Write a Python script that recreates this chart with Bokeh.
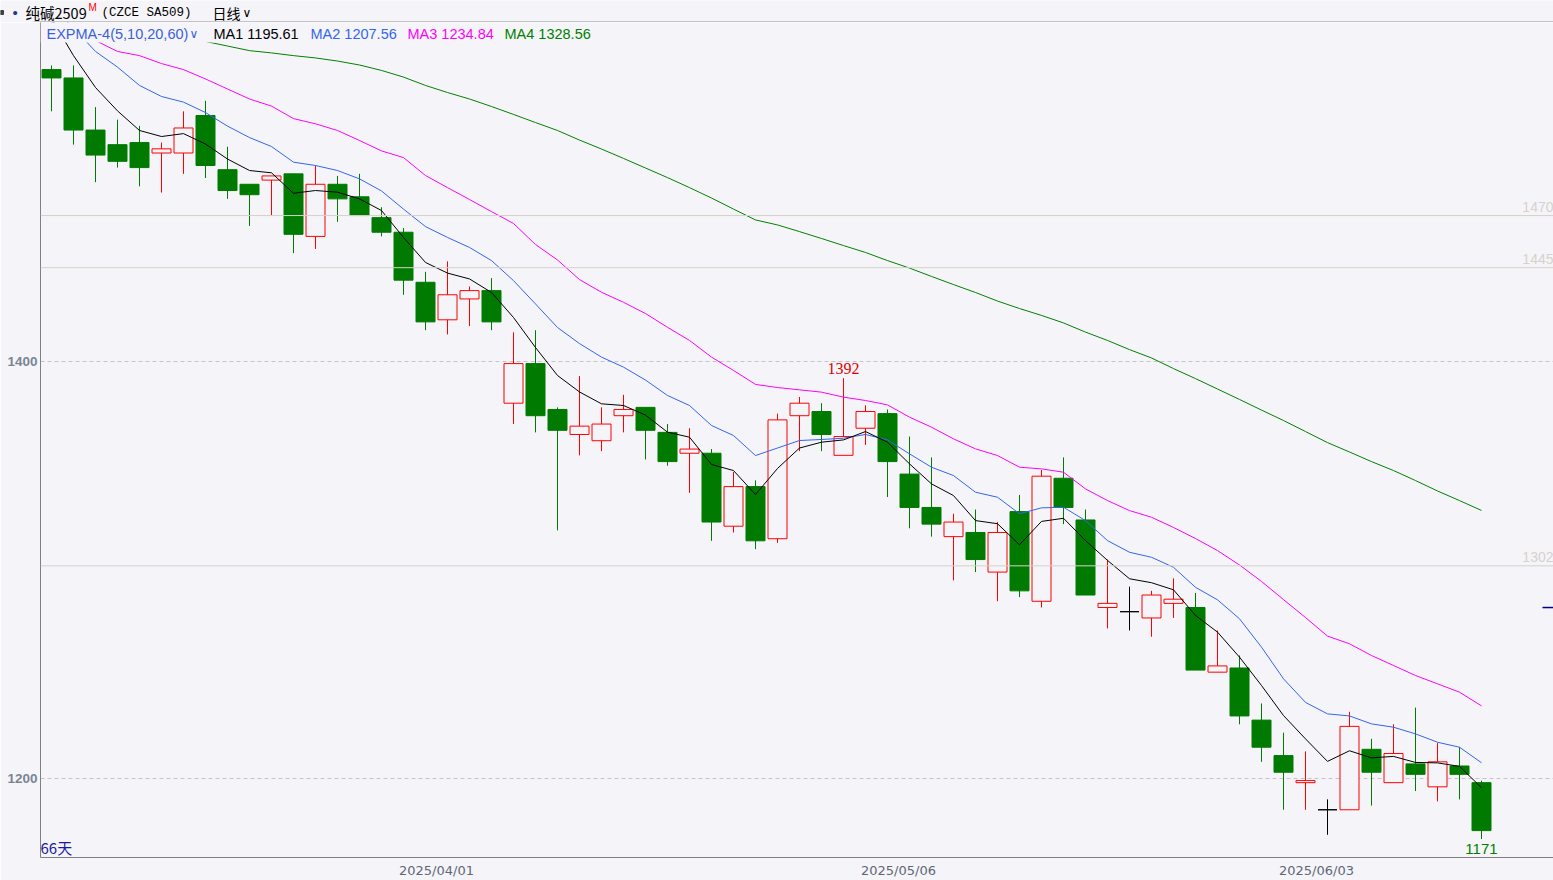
import numpy as np
from bokeh.plotting import figure
from bokeh.layouts import column
from bokeh.models import ColumnDataSource, Range1d, FixedTicker, Span, Label, BoxAnnotation
from bokeh.embed import file_html
from bokeh.resources import INLINE

# ---------------- data ----------------
opens  = [1540, 1536, 1511, 1504, 1505, 1500, 1500, 1518, 1492, 1485,
          1487, 1490, 1460, 1485, 1479, 1469, 1462, 1438, 1420, 1430,
          1434, 1380, 1399, 1377, 1365, 1362, 1374, 1378, 1366, 1356,
          1356, 1321, 1340, 1315, 1374, 1376, 1355, 1368, 1375, 1346,
          1330, 1316, 1318, 1299, 1328, 1285, 1344, 1324, 1282, 1280,
          1277, 1284, 1282, 1251, 1253, 1228, 1211, 1198, 1185, 1185,
          1214, 1198, 1207, 1196, 1206, 1198]
highs  = [1542, 1542, 1522, 1516, 1513, 1505, 1520, 1525, 1503, 1485,
          1489, 1490, 1494, 1489, 1490, 1474, 1464, 1443, 1448, 1436,
          1440, 1414, 1415, 1378, 1393, 1378, 1384, 1378, 1370, 1368,
          1358, 1347, 1343, 1375, 1383, 1380, 1392, 1379, 1377, 1364,
          1354, 1327, 1329, 1323, 1336, 1348, 1354, 1329, 1305, 1292,
          1290, 1296, 1289, 1271, 1259, 1236, 1222, 1213, 1190, 1232,
          1219, 1226, 1234, 1217, 1215, 1199]
lows   = [1520, 1504, 1486, 1493, 1484, 1481, 1490, 1488, 1478, 1465,
          1470, 1452, 1454, 1467, 1470, 1460, 1432, 1415, 1413, 1417,
          1415, 1370, 1366, 1319, 1355, 1357, 1366, 1353, 1350, 1337,
          1314, 1318, 1310, 1313, 1357, 1357, 1355, 1360, 1335, 1320,
          1316, 1295, 1299, 1285, 1287, 1282, 1322, 1288, 1272, 1271,
          1268, 1277, 1252, 1251, 1226, 1208, 1185, 1185, 1173, 1185,
          1187, 1198, 1194, 1189, 1190, 1171]
closes = [1536, 1511, 1499, 1496, 1493, 1502, 1512, 1494, 1482, 1480,
          1489, 1461, 1485, 1478, 1470, 1462, 1439, 1419, 1432, 1434,
          1419, 1399, 1374, 1367, 1369, 1370, 1377, 1367, 1352, 1358,
          1323, 1340, 1314, 1372, 1380, 1365, 1364, 1376, 1352, 1330,
          1322, 1323, 1305, 1318, 1290, 1345, 1330, 1288, 1284, 1280,
          1288, 1286, 1252, 1254, 1230, 1215, 1203, 1199, 1185, 1225,
          1203, 1212, 1202, 1208, 1202, 1175]

ma1 = [1564.5, 1546.7, 1531.4, 1520.2, 1510.8, 1507.9, 1509.3, 1504.3, 1497.1, 1491.6,
       1490.5, 1480.7, 1482.0, 1481.2, 1478.0, 1472.4, 1459.5, 1447.5, 1442.4, 1439.6,
       1433.1, 1421.1, 1406.7, 1393.3, 1385.4, 1379.7, 1378.9, 1374.3, 1366.1, 1363.7,
       1350.6, 1347.7, 1336.2, 1348.7, 1358.5, 1361.3, 1362.4, 1366.4, 1361.3, 1350.9,
       1341.3, 1335.7, 1323.7, 1322.2, 1312.1, 1323.3, 1324.8, 1314.1, 1304.6, 1295.8,
       1293.9, 1290.5, 1278.2, 1270.2, 1258.2, 1244.6, 1230.2, 1219.0, 1208.2, 1213.3,
       1209.9, 1210.6, 1207.7, 1207.5, 1205.8, 1195.61]
ma2 = [1570.0, 1560.0, 1548.7, 1541.2, 1532.4, 1527.1, 1524.4, 1519.4, 1512.9, 1507.4,
       1503.1, 1495.6, 1494.0, 1491.6, 1487.6, 1481.8, 1473.1, 1464.7, 1459.5, 1454.7,
       1448.4, 1438.8, 1427.6, 1416.3, 1408.6, 1402.1, 1397.3, 1391.1, 1383.7, 1378.9,
       1369.3, 1364.5, 1354.9, 1358.5, 1362.1, 1362.6, 1363.2, 1365.0, 1362.4, 1355.7,
       1349.3, 1345.3, 1337.3, 1334.9, 1327.0, 1329.8, 1330.1, 1323.7, 1314.1, 1308.5,
       1306.1, 1301.3, 1291.7, 1285.7, 1276.6, 1263.0, 1247.8, 1236.5, 1231.0, 1230.0,
       1226.2, 1224.6, 1221.4, 1217.4, 1215.0, 1207.56]
ma3 = [1562.6, 1557.8, 1553.9, 1548.7, 1546.7, 1542.9, 1540.0, 1535.5, 1530.7, 1525.9,
       1522.5, 1516.5, 1514.0, 1510.8, 1506.0, 1501.0, 1497.8, 1489.2, 1483.4, 1477.7,
       1471.9, 1466.2, 1456.1, 1448.7, 1439.3, 1433.2, 1428.4, 1423.0, 1416.4, 1410.1,
       1402.1, 1395.7, 1389.0, 1387.5, 1386.4, 1385.3, 1382.9, 1381.3, 1379.2, 1373.3,
       1368.5, 1362.9, 1358.1, 1354.9, 1349.3, 1348.5, 1346.9, 1338.9, 1333.3, 1328.5,
       1325.3, 1320.4, 1315.1, 1309.3, 1302.4, 1294.5, 1285.8, 1277.2, 1268.3, 1264.6,
       1259.0, 1254.2, 1249.4, 1245.4, 1241.4, 1234.84]
ma4 = [1561.6, 1560.2, 1558.7, 1557.5, 1556.3, 1555.4, 1554.4, 1553.5, 1551.3, 1549.1,
       1548.0, 1546.7, 1545.6, 1544.1, 1542.2, 1539.6, 1536.4, 1532.4, 1529.0, 1525.9,
       1522.3, 1518.5, 1514.6, 1510.8, 1506.2, 1501.9, 1497.4, 1492.8, 1488.2, 1483.4,
       1478.4, 1473.1, 1467.9, 1465.5, 1462.3, 1459.0, 1455.6, 1452.3, 1448.4, 1444.8,
       1440.8, 1436.9, 1433.1, 1429.0, 1425.4, 1422.1, 1418.5, 1414.1, 1410.1, 1405.7,
       1401.7, 1396.6, 1391.8, 1386.8, 1381.8, 1376.7, 1371.7, 1366.4, 1361.1, 1356.6,
       1352.0, 1347.7, 1342.9, 1337.9, 1333.3, 1328.56]

ma_names  = ["MA1", "MA2", "MA3", "MA4"]
ma_last   = ["1195.61", "1207.56", "1234.84", "1328.56"]
ma_colors = ["#000000", "#3366ee", "#ff00ff", "#008000"]

y_ticks      = [1200, 1400]
level_lines  = [1470, 1445, 1302]
date_ticks   = [17.5, 38.5, 57.5]
date_labels  = ["2025/04/01", "2025/05/06", "2025/06/03"]
mark_high    = (36, 1392)
mark_low     = (65, 1171)
marker_price = [1282]
day_count_label = "66天"
header_name  = "纯碱2509"
header_code  = "(CZCE SA509)"
header_freq  = "日线"

# ---------------- layout ----------------
BG = "#f5f5f9"
UP = "#ff0000"
DOWN = "#007a00"
PAGE_W = 1553
HEAD_H = 22
MAIN_H = 880 - HEAD_H
B_LEFT, B_TOP, B_BOTTOM = 40, 0, 23
frame_w = PAGE_W - B_LEFT
frame_h = MAIN_H - B_TOP - B_BOTTOM
PX_PER_DAY = 22.0
x_start = -0.5
x_end = x_start + frame_w / PX_PER_DAY
y_start, y_end = 1162.11, 1562.59

PAGE_L = B_LEFT                 # page x of frame left
PAGE_B = HEAD_H + frame_h       # page y of frame bottom

# ---------------- header strip ----------------
h = figure(width=PAGE_W, height=HEAD_H, output_backend="svg", toolbar_location=None,
           x_range=Range1d(0, PAGE_W), y_range=Range1d(0, HEAD_H),
           x_axis_location=None, y_axis_location=None,
           min_border_left=0, min_border_right=0, min_border_top=0, min_border_bottom=0,
           background_fill_color=BG, border_fill_color=BG, outline_line_color=None)
h.grid.visible = False
if "frame_align" in h.properties():
    h.frame_align = False


def head_text(px, py, text, color, size, font="Noto Sans CJK SC"):
    h.add_layout(Label(x=px, y=HEAD_H - py, text=text, text_color=color,
                       text_font_size=f"{size}px", text_font=font,
                       text_align="left", text_baseline="middle"))


h.quad(left=[0], right=[3], bottom=[HEAD_H - 14], top=[HEAD_H - 10], color="#404040")
head_text(12, 12, "•", "#1f3a93", 15, font="Liberation Sans")
head_text(25, 12, header_name, "#000000", 14.5)
head_text(88, 7, "M", "#ff0000", 10, font="Liberation Sans")
head_text(101, 12, header_code, "#000000", 12.5, font="Liberation Mono")
head_text(212, 12, header_freq, "#000000", 14)
head_text(242, 12, "∨", "#000000", 12, font="DejaVu Sans")
h.segment(x0=[33], x1=[PAGE_W], y0=[0.5], y1=[0.5], line_color="#909090", line_width=1)

# ---------------- main chart ----------------
p = figure(width=PAGE_W, height=MAIN_H, output_backend="svg", toolbar_location=None,
           x_range=Range1d(x_start, x_end), y_range=Range1d(y_start, y_end),
           min_border_left=B_LEFT, min_border_right=0,
           min_border_top=B_TOP, min_border_bottom=B_BOTTOM,
           background_fill_color=BG, border_fill_color=BG,
           outline_line_color=None)
if "frame_align" in p.properties():
    p.frame_align = False

p.yaxis.ticker = FixedTicker(ticks=y_ticks)
p.yaxis.major_label_text_font = "Liberation Sans"
p.yaxis.major_label_text_font_style = "bold"
p.yaxis.major_label_text_font_size = "13.5px"
p.yaxis.major_label_text_color = "#7b8493"
p.yaxis.major_label_standoff = 3
p.yaxis.major_tick_out = 0
p.yaxis.major_tick_in = 0
p.yaxis.minor_tick_out = 0
p.yaxis.minor_tick_in = 0
p.yaxis.axis_line_color = "#808080"

p.xaxis.ticker = FixedTicker(ticks=date_ticks)
p.xaxis.major_label_overrides = {t: l for t, l in zip(date_ticks, date_labels)}
p.xaxis.major_label_text_font = "DejaVu Sans"
p.xaxis.major_label_text_font_size = "13px"
p.xaxis.major_label_text_color = "#5f6777"
p.xaxis.major_label_standoff = 5
p.xaxis.major_tick_out = 0
p.xaxis.major_tick_in = 0
p.xaxis.minor_tick_out = 0
p.xaxis.minor_tick_in = 0
p.xaxis.axis_line_color = "#808080"

p.xgrid.visible = False
p.ygrid.grid_line_color = "#c4c4cc"
p.ygrid.grid_line_dash = "4 3"

for v in level_lines:
    p.add_layout(Span(location=v, dimension="width", line_color="#d5d1c9", line_width=1))
    p.add_layout(Label(x=x_end, y=v, text=str(v), text_align="right", text_baseline="bottom",
                       y_offset=4, text_color="#d6d2cb", text_font="Liberation Sans",
                       text_font_size="14px"))

idx = np.arange(len(opens))
o = np.array(opens, dtype=float)
c = np.array(closes, dtype=float)
line_col = np.where(c > o, UP, np.where(c < o, DOWN, "#000000"))
fill_col = np.where(c > o, BG, np.where(c < o, DOWN, "#000000"))
src = ColumnDataSource(dict(x=idx, top=np.maximum(o, c), bottom=np.minimum(o, c),
                            high=highs, low=lows, lc=line_col, fc=fill_col))
p.segment(x0="x", y0="high", x1="x", y1="low", line_color="lc", line_width=1, source=src)
p.vbar(x="x", width=19 / 22, top="top", bottom="bottom", fill_color="fc", line_color="lc",
       line_width=1, source=src)

for series, col in zip([ma4, ma3, ma2, ma1], ma_colors[::-1]):
    p.line(idx, series, line_color=col, line_width=1)

p.segment(x0=[x_end - 0.5], x1=[x_end], y0=marker_price, y1=marker_price,
          line_color="#000080", line_width=1.5)

p.add_layout(Label(x=mark_high[0], y=mark_high[1], text=str(mark_high[1]), text_align="center",
                   text_baseline="bottom", y_offset=4, text_color="#e00000",
                   text_font="Liberation Serif", text_font_size="16px"))
p.add_layout(Label(x=mark_low[0], y=mark_low[1], text=str(mark_low[1]), text_align="center",
                   text_baseline="top", y_offset=-5, text_color="#008000",
                   text_font="Liberation Sans", text_font_size="15px"))


def add_text(px, py, text, color, size, font="Liberation Sans", style="normal",
             align="left", baseline="middle"):
    p.add_layout(Label(x=px - PAGE_L, y=PAGE_B - py, x_units="screen", y_units="screen",
                       text=text, text_color=color, text_font_size=f"{size}px",
                       text_font=font, text_font_style=style, text_align=align,
                       text_baseline=baseline))


p.add_layout(BoxAnnotation(left=0, right=560, bottom=frame_h - 20, top=frame_h,
                           left_units="screen", right_units="screen",
                           bottom_units="screen", top_units="screen",
                           fill_color=BG, fill_alpha=1.0, line_color=None))
add_text(46, 33, "EXPMA-4(5,10,20,60)", "#3b5fe0", 14.5)
add_text(189, 33, "∨", "#3b5fe0", 12, font="DejaVu Sans")
for xpos, name, val, col in zip([213, 310, 407, 504], ma_names, ma_last, ma_colors):
    add_text(xpos, 33, f"{name} {val}", col, 14.5)

add_text(40, 847, day_count_label, "#1a1aa6", 15, font="Noto Sans CJK SC")

layout = column(h, p, spacing=0)
open("out.html", "w").write(file_html(layout, INLINE))
